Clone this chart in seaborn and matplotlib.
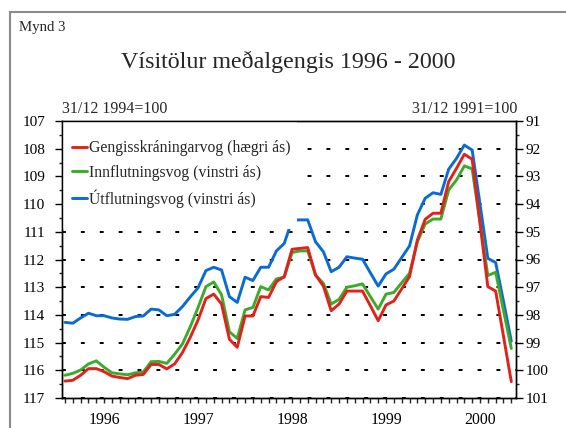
import numpy as np
import pandas as pd
import matplotlib
matplotlib.use("Agg")
import matplotlib.pyplot as plt
import matplotlib.transforms as mtransforms
import seaborn as sns
from matplotlib.lines import Line2D
from matplotlib.patches import Rectangle

# ---------------- data ----------------
months = pd.period_range("1996-01", "2000-10", freq="M").strftime("%Y-%m").tolist()
year_labels = ["1996", "1997", "1998", "1999", "2000"]
year_label_months = ["1996-06", "1997-06", "1998-06", "1999-06", "2000-06"]

# Útflutningsvog (left axis)
utflutningsvog = [114.27, 114.30, 114.11, 113.94, 114.03, 114.03, 114.11, 114.15, 114.16, 114.06,
                  114.04, 113.79, 113.82, 114.03, 113.98, 113.70, 113.35, 113.02, 112.40, 112.28,
                  112.38, 113.34, 113.55, 112.64, 112.76, 112.28, 112.28, 111.69, 111.42, 110.58,
                  110.57, 110.57, 111.36, 111.72, 112.44, 112.28, 111.90, 111.95, 111.99, 112.48,
                  112.96, 112.52, 112.35, 111.93, 111.51, 110.39, 109.79, 109.59, 109.65, 108.74,
                  108.35, 107.87, 108.05, 110.00, 111.96, 112.11, 113.51, 114.95]
# Innflutningsvog (left axis)
innflutningsvog = [116.18, 116.11, 115.99, 115.77, 115.66, 115.89, 116.09, 116.13, 116.16, 116.09,
                   116.06, 115.69, 115.68, 115.75, 115.42, 115.05, 114.43, 113.73, 112.98, 112.81,
                   113.28, 114.61, 114.85, 113.82, 113.73, 112.98, 113.10, 112.70, 112.64, 111.75,
                   111.69, 111.69, 112.56, 112.86, 113.61, 113.44, 113.00, 112.95, 112.88, 113.34,
                   113.79, 113.25, 113.19, 112.84, 112.50, 111.36, 110.72, 110.54, 110.54, 109.49,
                   109.13, 108.62, 108.73, 110.66, 112.58, 112.46, 113.84, 115.21]
# Gengisskráningarvog (right axis)
gengisskraningarvog = [100.39, 100.36, 100.18, 99.94, 99.94, 100.05, 100.21, 100.26, 100.30, 100.18,
                       100.15, 99.79, 99.79, 99.95, 99.77, 99.36, 98.81, 98.18, 97.41, 97.25,
                       97.61, 98.88, 99.17, 98.04, 98.04, 97.34, 97.37, 96.80, 96.62, 95.63,
                       95.60, 95.57, 96.56, 96.96, 97.85, 97.61, 97.14, 97.14, 97.14, 97.67,
                       98.21, 97.64, 97.50, 97.06, 96.62, 95.30, 94.55, 94.33, 94.33, 93.19,
                       92.71, 92.20, 92.38, 94.68, 96.98, 97.14, 98.77, 100.41]

labels = ["Gengisskráningarvog (hægri ás)", "Innflutningsvog (vinstri ás)", "Útflutningsvog (vinstri ás)"]

df = pd.DataFrame({
    "month": months,
    "t": np.arange(len(months)),
    "utfl": utflutningsvog,
    "innfl": innflutningsvog,
    "geng": gengisskraningarvog,
})

RED = "#E2211C"
GREEN = "#3CAA2A"
BLUE = "#0A6BD4"

# ---------------- style ----------------
sns.set_theme(style="white")
plt.rcParams["font.family"] = ["Liberation Serif", "DejaVu Serif"]
plt.rcParams["lines.scale_dashes"] = False

fig = plt.figure(figsize=(5.66, 4.28), dpi=100)
W, H = 566, 428
ax = fig.add_axes([62 / W, 1 - 398 / H, (515.7 - 62) / W, 277 / H])

sns.lineplot(data=df, x="t", y="utfl", ax=ax, color=BLUE, linewidth=2.1)
sns.lineplot(data=df, x="t", y="innfl", ax=ax, color=GREEN, linewidth=2.1)
ax2 = ax.twinx()
sns.lineplot(data=df, x="t", y="geng", ax=ax2, color=RED, linewidth=2.1)

for a in (ax, ax2):
    a.set_xlabel("")
    a.set_ylabel("")
    for s in a.spines.values():
        s.set_color("black")
        s.set_linewidth(1.0)
        s.set_visible(True)

ax.set_xlim(-0.38, len(months) - 1 + 0.56)
ax.set_ylim(117, 107)
ax2.set_ylim(101, 91)

ax.set_yticks(np.arange(107, 118))
ax.set_yticks(np.arange(107.5, 117, 1.0), minor=True)
ax2.set_yticks(np.arange(91, 102))
ax2.set_yticks(np.arange(91.5, 101, 1.0), minor=True)

ax.set_xticks(df["t"], labels=[""] * len(months))

ax.tick_params(axis="y", which="major", direction="out", length=5, width=1, pad=7,
               labelsize=11, colors="black", left=True)
ax.tick_params(axis="y", which="minor", direction="out", length=2.5, width=1, left=True)
ax2.tick_params(axis="y", which="major", direction="out", length=5, width=1, pad=2,
                labelsize=11, colors="black", right=True)
ax2.tick_params(axis="y", which="minor", direction="out", length=2.5, width=1, right=True)
ax.tick_params(axis="x", which="major", direction="out", length=3.6, width=1, bottom=True)

# year labels, centred under the middle of each year
trans = mtransforms.blended_transform_factory(ax.transData, ax.transAxes)
for lab, m in zip(year_labels, year_label_months):
    ax.text(months.index(m), (398 - 424) / 277, lab, transform=trans, ha="center",
            va="baseline", fontsize=11.3, color="black")

ax.yaxis.grid(True, which="major", color="black", linestyle=(0, (2.8, 10.8)), linewidth=1.4)
ax.xaxis.grid(False)
ax2.grid(False)

# white legend background box (hides lines/grid beneath)
ax2.add_patch(Rectangle((0.002, (398 - 229) / 277), (296 - 62) / 453.7, 1 - (398 - 229) / 277 - 0.003,
                        transform=ax2.transAxes, facecolor="white", edgecolor="none", zorder=2.2))
handles = [Line2D([], [], color=c, linewidth=2.1) for c in (RED, GREEN, BLUE)]
leg = ax2.legend(handles, labels, loc="upper left", bbox_to_anchor=(10 / 453.7, 1 - 19.5 / 277),
                 frameon=False, fontsize=11.3, handlelength=0.95, handletextpad=0.12,
                 labelspacing=0.53, borderpad=0, borderaxespad=0)
leg.set_zorder(6)

# texts
fig.text(19 / W, 1 - 27 / H, "Mynd 3", fontsize=10.7, va="center", ha="left")
fig.text(288 / W, 1 - 62 / H, "Vísitölur meðalgengis 1996 - 2000", fontsize=17.3, va="center", ha="center")
fig.text(62 / W, 1 - 109 / H, "31/12 1994=100", fontsize=11.5, va="center", ha="left")
fig.text(517 / W, 1 - 109 / H, "31/12 1991=100", fontsize=11.5, va="center", ha="right")

# outer frame
fig.add_artist(Rectangle((10 / W, -0.05), (600 - 10) / W, 1 - 12 / H + 0.05, transform=fig.transFigure,
                         fill=False, edgecolor="#8a8a8a", linewidth=1.5))

fig.savefig("out.png", dpi=100)
